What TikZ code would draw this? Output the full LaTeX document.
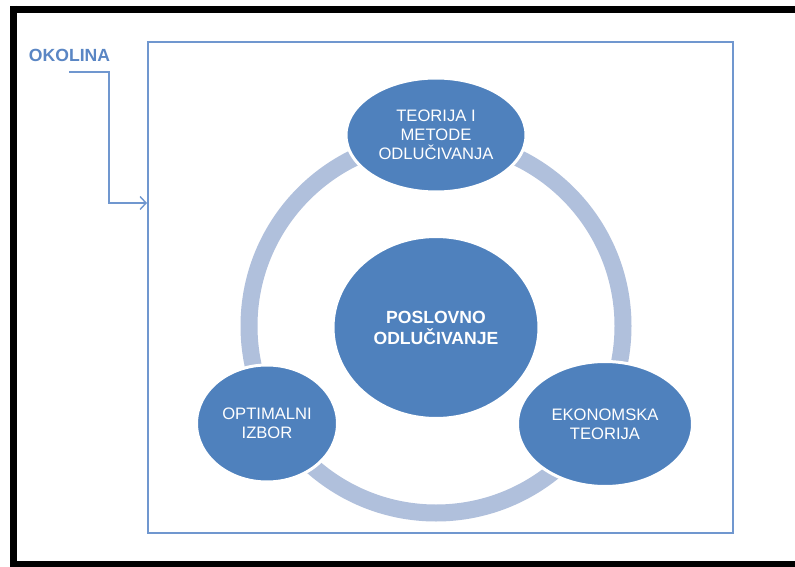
\documentclass[tikz,border=0pt]{standalone}
\usepackage{fontspec}
\setmainfont{Liberation Sans}
\usetikzlibrary{shapes.geometric,arrows.meta}
\definecolor{bubble}{HTML}{4F81BD}
\definecolor{ringc}{HTML}{B0C0DC}
\definecolor{framec}{HTML}{7097CF}
\definecolor{labelc}{HTML}{5A86C4}
\tikzset{
  bubblenode/.style={ellipse, fill=bubble, draw=white, line width=3pt, inner sep=0pt,
    text=white, align=center, font=\fontsize{16.6}{19.2}\selectfont},
  ringline/.style={draw=ringc, line width=17pt},
  boxline/.style={draw=framec, line width=1.6pt},
  inarrow/.style={draw=framec, line width=1.4pt, -{Straight Barb[length=6pt,width=13pt,line width=1.4pt]}},
}
\begin{document}
\begin{tikzpicture}[x=1pt,y=-1pt]
\useasboundingbox (0,0) rectangle (795,567);
\fill[white] (0,0) rectangle (795,567);
% black frame
\draw[black, line width=7pt] (13.5,9.5) -- (810,9.5);
\draw[black, line width=7pt] (13.5,6) -- (13.5,570);
\draw[black, line width=7pt] (10,564) -- (810,564);
% inner box
\draw[boxline] (148,42) rectangle (733,533);
% label and arrow
\node[font=\bfseries\fontsize{17.6}{20}\selectfont, text=labelc, inner sep=0pt] (okolina) at (69.5,55.5) {OKOLINA};
\coordinate (a0) at (69,72);
\coordinate (a1) at (109,72);
\coordinate (a2) at (109,203);
\coordinate (a3) at (147,203);
\draw[inarrow] (a0) -- (a1) -- (a2) -- (a3);
% ring
\draw[ringline] (436,326) circle [radius=187pt];
% bubbles
\node[bubblenode, minimum width=180pt, minimum height=114pt] (top) at (436,135)
  {TEORIJA I\\METODE\\ODLUČIVANJA};
\node[bubblenode, minimum width=206pt, minimum height=182pt, font=\bfseries\fontsize{17.6}{21}\selectfont] (center) at (436,327.5)
  {POSLOVNO\\ODLUČIVANJE};
\node[bubblenode, minimum width=141pt, minimum height=117pt] (left) at (267,423.5)
  {OPTIMALNI\\IZBOR};
\node[bubblenode, minimum width=175pt, minimum height=125pt] (right) at (605,424)
  {EKONOMSKA\\TEORIJA};
\end{tikzpicture}
\end{document}
